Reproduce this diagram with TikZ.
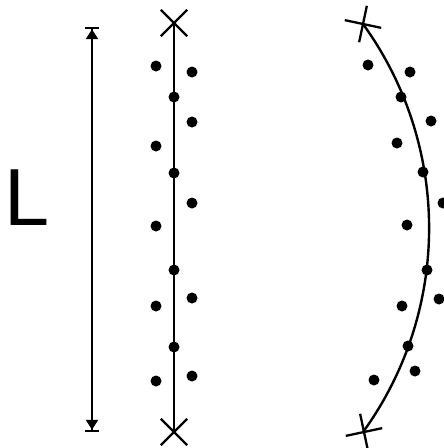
\documentclass[tikz,border=0pt]{standalone}
\usepackage{fontspec}
\setmainfont{Liberation Sans}
\usetikzlibrary{arrows.meta, shapes.misc}

\begin{document}
\begin{tikzpicture}[
    x=1pt, y=-1pt,
    dotmark/.style={circle, fill=black, inner sep=0pt, minimum size=11pt},
    xmark/.style={cross out, draw=black, line width=2.3pt, minimum size=24pt, inner sep=0pt},
    span/.style={line width=2.2pt,
                 {Bar[width=14pt]Triangle[length=10pt,width=12pt]}-{Triangle[length=10pt,width=12pt]Bar[width=14pt]}},
    fiber/.style={line width=2.4pt},
]
    \useasboundingbox (0,0) rectangle (444,448);

    % length label and span arrow
    \node[font=\fontsize{81}{81}\selectfont] (lab) at (27.5,198) {L};
    \coordinate (atop) at (92,27);
    \coordinate (abot) at (92,432);
    \draw[span] (atop) -- (abot);

    % straight chain
    \node[xmark] (st) at (174,23) {};
    \node[xmark] (sb) at (174,432) {};
    \draw[fiber] (st.center) -- (sb.center);

    \node[dotmark] (s1) at (174,97) {};
    \node[dotmark] (s2) at (174,173) {};
    \node[dotmark] (s3) at (174,270) {};
    \node[dotmark] (s4) at (174,347) {};

    \node[dotmark] (sl1) at (156,66) {};
    \node[dotmark] (sl2) at (156,146) {};
    \node[dotmark] (sl3) at (156,226) {};
    \node[dotmark] (sl4) at (156,306) {};
    \node[dotmark] (sl5) at (156,381) {};

    \node[dotmark] (sr1) at (192,72) {};
    \node[dotmark] (sr2) at (192,122) {};
    \node[dotmark] (sr3) at (192,203) {};
    \node[dotmark] (sr4) at (192,298) {};
    \node[dotmark] (sr5) at (192,376) {};

    % bent chain
    \node[xmark, rotate=33] (ct) at (363,24) {};
    \node[xmark, rotate=-33] (cb) at (364,432) {};
    \draw[fiber] (ct.center) arc[start angle=-35.9, end angle=35.9, radius=348];

    \node[dotmark] (c1) at (401,97) {};
    \node[dotmark] (c2) at (423,172) {};
    \node[dotmark] (c3) at (427,270) {};
    \node[dotmark] (c4) at (408,346) {};

    \node[dotmark] (cl1) at (368,65) {};
    \node[dotmark] (cl2) at (397,143) {};
    \node[dotmark] (cl3) at (407,225) {};
    \node[dotmark] (cl4) at (402,306) {};
    \node[dotmark] (cl5) at (374,380) {};

    \node[dotmark] (cr1) at (410,72) {};
    \node[dotmark] (cr2) at (431,121) {};
    \node[dotmark] (cr3) at (443,203) {};
    \node[dotmark] (cr4) at (439,299) {};
    \node[dotmark] (cr5) at (415,371) {};
\end{tikzpicture}
\end{document}
